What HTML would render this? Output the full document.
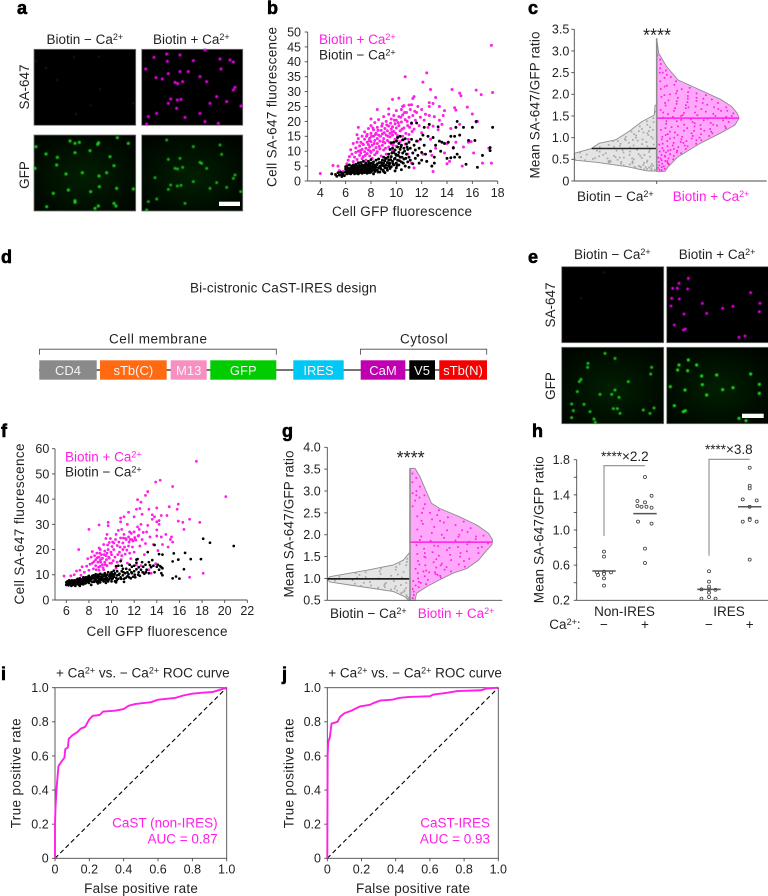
<!DOCTYPE html>
<html lang="en">
<head>
<meta charset="utf-8">
<title>CaST figure</title>
<style>
html,body{margin:0;padding:0;background:#fff;width:768px;height:896px;overflow:hidden}
svg{display:block;font-family:"Liberation Sans",sans-serif;fill:#231f20}
.t{font-size:13.5px}
.k{font-size:12.5px}
.l{font-size:18px;font-weight:bold;stroke:#000;stroke-width:.6px;fill:#000}
.m{fill:#ff1fe6}
.w{fill:#f4f4f4;font-size:13px;text-anchor:middle}
.ax{stroke:#4a4a4a;stroke-width:.9;fill:none}
</style>
</head>
<body>
<svg id="fig" xmlns="http://www.w3.org/2000/svg" width="768" height="896" viewBox="0 0 768 896">
<defs>
<radialGradient id="gfpBg" cx="50%" cy="55%" r="65%"><stop offset="0" stop-color="#011f01"/><stop offset="1" stop-color="#000500"/></radialGradient>
<filter id="soft" x="-5%" y="-5%" width="110%" height="110%"><feGaussianBlur stdDeviation=".45"/></filter>
</defs>

<text class="l" x="17" y="14">a</text>
<text class="l" x="267" y="14">b</text>
<text class="l" x="528" y="14">c</text>
<text class="l" x="1" y="263">d</text>
<text class="l" x="528" y="263">e</text>
<text class="l" x="1" y="437">f</text>
<text class="l" x="282" y="437">g</text>
<text class="l" x="532" y="437">h</text>
<text class="l" x="1" y="680">i</text>
<text class="l" x="282" y="680">j</text>

<!-- panel a -->
<g>
<text class="t" x="46.5" y="44">Biotin − Ca<tspan dy="-4" font-size="9">2+</tspan></text>
<text class="t" x="153" y="44">Biotin + Ca<tspan dy="-4" font-size="9">2+</tspan></text>
<text class="t" transform="translate(29,87) rotate(-90)" text-anchor="middle">SA-647</text>
<text class="t" transform="translate(29,175) rotate(-90)" text-anchor="middle">GFP</text>
<rect x="34" y="49.3" width="101.7" height="76" fill="#000" stroke="#777" stroke-width=".8"/>
<rect x="141.7" y="49.3" width="101" height="76" fill="#000" stroke="#777" stroke-width=".8"/>
<rect x="34" y="135" width="101.7" height="76" fill="url(#gfpBg)" stroke="#777" stroke-width=".8"/>
<rect x="141.7" y="135" width="101" height="76" fill="url(#gfpBg)" stroke="#777" stroke-width=".8"/>
<g id="spotsA" filter="url(#soft)"></g>
<rect x="219" y="201.7" width="21" height="4.3" fill="#fff"/>
</g>

<!-- panel e -->
<g>
<text class="t" x="574" y="259">Biotin − Ca<tspan dy="-4" font-size="9">2+</tspan></text>
<text class="t" x="678.7" y="259">Biotin + Ca<tspan dy="-4" font-size="9">2+</tspan></text>
<text class="t" transform="translate(555,305) rotate(-90)" text-anchor="middle">SA-647</text>
<text class="t" transform="translate(555,386) rotate(-90)" text-anchor="middle">GFP</text>
<rect x="561.7" y="266.7" width="102" height="76" fill="#000" stroke="#777" stroke-width=".8"/>
<rect x="666.7" y="266.7" width="102" height="76" fill="#000" stroke="#777" stroke-width=".8"/>
<rect x="561.7" y="347.3" width="102" height="76.4" fill="url(#gfpBg)" stroke="#777" stroke-width=".8"/>
<rect x="666.7" y="347.3" width="102" height="76.4" fill="url(#gfpBg)" stroke="#777" stroke-width=".8"/>
<g id="spotsE" filter="url(#soft)"></g>
<rect x="742" y="413.7" width="21.7" height="4.3" fill="#fff"/>
</g>

<!-- panel d -->
<g>
<text class="t" x="190" y="292.7" textLength="186.7">Bi-cistronic CaST-IRES design</text>
<text class="t" x="109" y="343.3" textLength="98">Cell membrane</text>
<text class="t" x="400" y="343.3" textLength="47.7">Cytosol</text>
<path d="M39.5 354.7V349.2H276.3V354.7" fill="none" stroke="#444" stroke-width=".8"/>
<path d="M360.5 354.7V349.2H486.7V354.7" fill="none" stroke="#444" stroke-width=".8"/>
<line x1="39" y1="370" x2="487" y2="370" stroke="#222" stroke-width="1.3"/>
<rect x="39.3" y="360.3" width="57.4" height="19.4" fill="#8a8a8a"/>
<rect x="100" y="360.3" width="66.7" height="19.4" fill="#ff6a13"/>
<rect x="170.7" y="360.3" width="36" height="19.4" fill="#f78fc0"/>
<rect x="210.3" y="360.3" width="66" height="19.4" fill="#00cc00"/>
<rect x="293.3" y="360.3" width="50.4" height="19.4" fill="#00c8f5"/>
<rect x="360.7" y="360.3" width="44.6" height="19.4" fill="#c000b0"/>
<rect x="409.3" y="360.3" width="25.7" height="19.4" fill="#000"/>
<rect x="439.3" y="360.3" width="47.7" height="19.4" fill="#f50000"/>
<text class="w" x="68" y="375">CD4</text>
<text class="w" x="133.3" y="375">sTb(C)</text>
<text class="w" x="188.7" y="375">M13</text>
<text class="w" x="243.3" y="375">GFP</text>
<text class="w" x="318.5" y="375">IRES</text>
<text class="w" x="383" y="375">CaM</text>
<text class="w" x="422" y="375">V5</text>
<text class="w" x="463" y="375">sTb(N)</text>
</g>

<!-- panel b -->
<g id="chartB">
<text class="t" transform="translate(276.7,107) rotate(-90)" text-anchor="middle" textLength="160">Cell SA-647 fluorescence</text>
<text class="t" x="402" y="216" text-anchor="middle" textLength="140">Cell GFP fluorescence</text>
<text class="t m" x="319" y="44">Biotin + Ca<tspan dy="-4" font-size="9">2+</tspan></text>
<text class="t" x="319" y="59.5">Biotin − Ca<tspan dy="-4" font-size="9">2+</tspan></text>
</g>

<!-- panel c -->
<g id="chartC">
<text class="t" transform="translate(539.3,105) rotate(-90)" text-anchor="middle" textLength="147">Mean SA-647/GFP ratio</text>
<text x="657" y="41.5" font-size="18" text-anchor="middle">****</text>
<text class="t" x="577" y="201">Biotin − Ca<tspan dy="-4" font-size="9">2+</tspan></text>
<text class="t m" x="672.7" y="201">Biotin + Ca<tspan dy="-4" font-size="9">2+</tspan></text>
</g>

<!-- panel f -->
<g id="chartF">
<text class="t" transform="translate(24,524) rotate(-90)" text-anchor="middle" textLength="161">Cell SA-647 fluorescence</text>
<text class="t" x="157" y="636" text-anchor="middle" textLength="141">Cell GFP fluorescence</text>
<text class="t m" x="65" y="461.7">Biotin + Ca<tspan dy="-4" font-size="9">2+</tspan></text>
<text class="t" x="65" y="476.7">Biotin − Ca<tspan dy="-4" font-size="9">2+</tspan></text>
</g>

<!-- panel g -->
<g id="chartG">
<text class="t" transform="translate(293.3,524) rotate(-90)" text-anchor="middle" textLength="147">Mean SA-647/GFP ratio</text>
<text x="410.7" y="464" font-size="18" text-anchor="middle">****</text>
<text class="t" x="330" y="618">Biotin − Ca<tspan dy="-4" font-size="9">2+</tspan></text>
<text class="t m" x="417.7" y="618">Biotin + Ca<tspan dy="-4" font-size="9">2+</tspan></text>
</g>

<!-- panel h -->
<g id="chartH">
<text class="t" transform="translate(543.3,529.7) rotate(-90)" text-anchor="middle" textLength="147">Mean SA-647/GFP ratio</text>
<text class="t" x="624.5" y="616" text-anchor="middle">Non-IRES</text>
<text class="t" x="729" y="616" text-anchor="middle">IRES</text>
<text class="t" x="549.3" y="629">Ca<tspan dy="-4" font-size="9">2+</tspan><tspan dy="4">:</tspan></text>
<text class="t" x="604" y="629" text-anchor="middle">−</text>
<text class="t" x="645" y="629" text-anchor="middle">+</text>
<text class="t" x="709" y="629" text-anchor="middle">−</text>
<text class="t" x="749.7" y="629" text-anchor="middle">+</text>
<text class="t" x="601" y="461">****×2.2</text>
<text class="t" x="705" y="454">****×3.8</text>
<path d="M604 536V465.7H645" fill="none" stroke="#8c8c8c" stroke-width="1.1"/>
<path d="M709 555.7V459.3H749.7" fill="none" stroke="#8c8c8c" stroke-width="1.1"/>
</g>

<!-- panel i -->
<g id="chartI">
<text x="56" y="677.3" font-size="13.5">+ Ca<tspan dy="-4" font-size="9">2+</tspan><tspan dy="4"> vs. − Ca</tspan><tspan dy="-4" font-size="9">2+</tspan><tspan dy="4"> ROC curve</tspan></text>
<text class="t" transform="translate(20.7,773.3) rotate(-90)" text-anchor="middle" textLength="110">True positive rate</text>
<text class="t" x="141" y="893" text-anchor="middle" textLength="113.7">False positive rate</text>
</g>

<!-- panel j -->
<g id="chartJ">
<text x="328.3" y="677.3" font-size="13.5">+ Ca<tspan dy="-4" font-size="9">2+</tspan><tspan dy="4"> vs. − Ca</tspan><tspan dy="-4" font-size="9">2+</tspan><tspan dy="4"> ROC curve</tspan></text>
<text class="t" transform="translate(293.3,773.3) rotate(-90)" text-anchor="middle" textLength="110">True positive rate</text>
<text class="t" x="413" y="893" text-anchor="middle" textLength="114">False positive rate</text>
</g>
</svg>

<script>
/* ---------- panel b values ---------- */
const bTicksX=['4','6','8','10','12','14','16','18'];
const bTicksY=['0','5','10','15','20','25','30','35','40','45','50'];
const bPlus=[[17.5,45.5],[12.4,36.3],[12.1,33.2],[10.7,35],[17.6,29.7],[16.3,30.5],[16.7,29],[14.4,30.7],[15,29.5],[15.1,28.6],[12.7,30.7],[13.1,28],[11.4,28.3],[11.3,27.7],[9.7,27.4],[10.2,27.8],[12.6,26.3],[12.9,26],[12.6,25],[13.4,25],[11,25.5],[11.2,25.6],[10.5,25],[10.6,25.3],[8.5,24],[9.4,24.2],[14.6,24.6],[14.7,23.8],[15.6,24.8],[13.8,23.6],[16,22.5],[8,20.8],[7,18],[6.9,15.5],
[4,2.5],[5,5.2],[5.4,5],[5.5,3.5],[5.8,3.2],[6.1,5.8],[6.2,7],[6.3,8.2],[6.4,10.5],[6.5,9],[6.6,6.5],[6.6,12.6],[6.7,8],[6.8,9.6],[6.8,11.1],[6.9,13],[6.9,7.2],[7,10],[7,14.2],[7,6.2],
[7.1,8.6],[7.1,11.8],[7.2,9.4],[7.2,13],[7.3,7.5],[7.3,10.6],[7.3,15],[7.4,12.2],[7.4,8.2],[7.5,9.8],[7.5,14],[7.5,16.5],[7.6,11],[7.6,7],[7.7,13],[7.7,9.2],[7.7,15.6],[7.8,10.4],[7.8,12.2],[7.8,17.6],[7.9,8.4],[7.9,14.4],[7.9,11.4],[8,16],[8,13.2],[8,9.6],[8,18.6],
[8.1,7.6],[8.1,12],[8.2,15],[8.2,10.4],[8.2,17.2],[8.3,13.6],[8.3,8.8],[8.3,19.6],[8.4,11.2],[8.4,16],[8.5,14.2],[8.5,9.8],[8.5,12.6],[8.5,18],[8.6,20.6],[8.6,15.4],[8.7,10.8],[8.7,13.4],[8.8,17],[8.8,8.4],[8.9,12],[8.9,15.8],[8.9,19.2],[9,14.2],[9,21.6],[9,10.4],[9.1,17.6],[9.1,12.8],[9.2,15.4],[9.2,20],[9.2,9],
[9.3,13.6],[9.3,16.8],[9.4,11.4],[9.4,18.4],[9.4,22.4],[9.5,14.8],[9.5,16],[9.6,20.8],[9.6,12.4],[9.6,17.4],[9.7,10],[9.7,15.4],[9.7,18.2],[9.8,13],[9.8,22],[9.8,16.6],[9.9,19.2],[9.9,14],[10,17.8],[10,11.6],[10,20.4],[10,23.6],[10.1,15.2],[10.2,18.6],[10.2,21.6],[10.3,13.2],[10.3,16.8],[10.4,24],[10.4,19.8],[10.5,22.2],[10.5,15],[10.6,17.8],[10.7,12.4],[10.7,20.6],[10.8,23],[10.9,18.6],[10.9,9],
[11,21.4],[11,15.6],[11.1,24],[11.2,19.2],[11.2,6],[11.3,22],[11.4,17.4],[11.4,4.4],[11.5,20.4],[11.6,23],[11.7,13.4],[11.7,25],[11.8,18.6],[11.9,21.4],[12,16.2],[12,24],[12.1,9],[12.2,20.4],[12.3,22.4],[12.4,6.6],[12.5,18],[12.6,22],[12.7,14],[12.8,8.6],[12.9,3.2],[12.9,18.4],[13,21.6],[13.1,11],[13.3,17.2],[13.4,20.4],[13.6,19],[13.7,22],[13.8,9.4],[14,12.6],[14,5.8],[14.2,6.6],[14.3,17.6],[14.5,11],[14.7,13],[15,19],[15.2,5],[15.3,11.4],[15.7,13],[16.1,9.4],[16.3,19.8],[16.4,20],[16.8,6],[17.5,6],[17.3,11],[15.9,13.2],
[7.15,10.2],[7.35,12.4],[7.55,8.6],[7.65,15],[7.85,13.6],[7.95,10],[8.05,15],[8.15,17.8],[8.25,12.6],[8.35,15.6],[8.45,9.4],[8.55,17],[8.65,11.6],[8.75,15],[8.85,18.4],[8.95,13.2],[9.05,16.2],[9.15,11],[9.25,18.8],[9.35,15],[9.45,13],[9.55,19.4],[9.65,16.4],[9.75,12],[9.85,20.4],[9.95,16],[10.05,13.6],[10.15,19.6],[10.25,15],[10.35,21.4],[10.45,17.4],[10.55,13.8],[10.65,23],[10.75,16],[10.85,20],[10.95,14],[11.05,18],[11.25,16.6],[11.45,23.4]];
const bMinus=[[4.9,2.4],[5.2,2.2],[5.3,1.6],[5.4,2.8],[5.5,2],[5.6,3],[5.7,2.2],[5.7,1.5],[5.8,2.6],[5.9,1.8],[6,3],[6,4],[6,4.8],[6.1,2.4],[6.1,3.4],[6.1,5],[6.2,4.2],[6.2,3],[6.3,2.5],[6.3,3.8],[6.3,5.4],[6.4,4.4],[6.4,3.2],[6.4,2.4],[6.5,5],[6.5,3.8],[6.5,2.8],[6.6,4.4],[6.6,3.2],[6.6,5.4],[6.7,2.4],[6.7,3.6],[6.7,4.8],[6.8,3],[6.8,4.2],[6.8,5.6],[6.9,2.6],[6.9,3.6],[6.9,5],[7,4.4],[7,3.2],[7,2.4],[7,6],
[7.1,3.8],[7.1,5.2],[7.1,2.8],[7.2,4.6],[7.2,3.4],[7.2,6.2],[7.3,2.6],[7.3,4],[7.3,5.4],[7.4,3.2],[7.4,4.8],[7.4,6.6],[7.5,2.8],[7.5,3.8],[7.5,5.4],[7.5,4.4],[7.6,6],[7.6,3.2],[7.6,4.8],[7.7,2.6],[7.7,4],[7.7,5.4],[7.8,3.4],[7.8,6.6],[7.8,4.6],[7.9,2.8],[7.9,5.2],[7.9,3.8],[8,4.4],[8,6],[8,3],[8,7.2],[8.1,5],[8.1,3.6],[8.2,2.4],[8.2,4.2],[8.2,6.4],[8.3,5.4],[8.3,3.2],[8.4,4.6],[8.4,7],[8.5,3.6],[8.5,5.8],[8.6,4.4],[8.6,7.4],[8.7,5],[8.7,3],[8.8,6.2],[8.8,4],[8.9,7],[8.9,5.2],[9,3.2],[9,6],[9,8],
[9.1,4.4],[9.1,6.8],[9.1,2.8],[9.2,5.4],[9.2,7.6],[9.3,3.6],[9.3,6.2],[9.4,9],[9.4,5],[9.4,7],[9.5,4.2],[9.5,10.6],[9.5,6],[9.6,8.2],[9.6,12.8],[9.6,4.8],[9.7,6.6],[9.7,11],[9.8,9.6],[9.8,5.4],[9.8,13],[9.9,7.6],[9.9,3.4],[9.9,10.4],[10,6],[10,8.6],[10,13.4],[10,4.4],[10.1,11.4],[10.1,7],[10.1,14.6],[10.2,9.6],[10.2,5.4],[10.2,12.6],[10.3,8],[10.3,10.6],[10.3,15],[10.4,6.4],[10.4,12],[10.4,3.8],[10.5,9.4],[10.5,13.8],[10.6,7.4],[10.6,11],[10.7,5],[10.7,14.2],[10.8,9],[10.8,12.4],[10.9,6.4],[10.9,10.6],[11,8],[11,13],[11,4.6],[11.1,11],[11.1,7],[11.2,19.5],[11.2,14],[11.3,9.4],[11.3,5.8],[11.4,12],[11.5,7.6],[11.5,10.4],[11.6,19.5],[11.6,13.4],[11.7,8.6],[11.8,6],[11.8,11],[11.9,14],[12,9.6],[12,7],[12.1,15.4],[12.2,18],[12.2,12],[12.3,9],[12.4,6.6],[12.5,15],[12.6,19],[12.7,10],[12.8,5],[12.9,14.6],[13,8],[13,6],[13.1,12],[13.3,18.2],[13.4,13.4],[13.5,10],[13.6,13],[13.8,12.6],[14,7.6],[14.1,13],[14.3,7.8],[14.3,15],[14.5,11.2],[14.6,8],[14.7,18],[14.8,20],[14.8,9],[15,15.4],[15.3,18],[15.5,5.6],[15.7,13.6],[16,18],[16.3,20],[16.4,4.6],[16.8,8.6],[17.4,10.2],[17.4,11.2],[17.6,18],[16.2,13.6],[14.6,15],[15,8],
[6.15,3.8],[6.35,3],[6.55,4.2],[6.75,3.2],[6.95,4.4],[7.05,3.6],[7.25,3],[7.35,4.6],[7.45,3.6],[7.55,5],[7.65,3.8],[7.75,3],[7.85,5.8],[7.95,4.4],[8.05,3.4],[8.15,5.6],[8.25,4.8],[8.35,3.8],[8.45,5.4],[8.55,3],[8.65,6.2],[8.75,4.4],[8.85,5.4],[8.95,3.6],[9.05,5],[9.15,7.6],[9.25,4.4],[9.35,8],[9.45,5.6],[9.55,7.2],[9.65,9.4],[9.75,5.8],[9.85,7.4],[9.95,9],[10.05,5.2],[10.15,8.6],[10.25,6.8],[10.35,11.4],[10.45,8],[10.55,6],[10.65,10],[10.75,7.6],[10.85,11.4]];

/* ---------- panel f values ---------- */
const fTicksX=['6','8','10','12','14','16','18','20','22'];
const fTicksY=['0','10','20','30','40','50','60'];
const fPlus=[[17.5,55],[20.1,41],[14.3,47.5],[13.9,46.8],[15.4,45],[13.2,43],[13,41.5],[12.3,39.8],[12.6,38.8],[15.9,38],[14,36.5],[15.1,37],[15.8,36],[13.3,36],[12.2,36],[12.5,36.3],[11.5,34.8],[11.1,33],[10.8,32.5],[10.8,31],[12,33],[12.7,34],[13.8,33],[13.6,33.8],[14.4,33.5],[14.9,33.5],[14,31],[14.2,31.5],[15.9,31.3],[16.9,32],[16.3,30.8],[17.8,30.8],[8,28],[8.9,29.8],[9.7,30.8],[9.7,29.5],[7.1,20],[5.8,9.5],[6,6],[6.4,9.6],[6.7,10],[6.9,11.5],[7.2,11.8],[7.3,9.8],[7.6,11],[7.8,13.4],[7.9,16.4],[8,11.8],[8.2,17],[8.3,14.6],[8.4,12.4],[8.5,17.6],[8.6,16],[8.6,13.6],[8.7,18.6],[8.8,15],[8.9,11.8],[8.9,17],[9,13.4],[9,20],[9,15.8],[9.1,18],[9.2,14],[9.2,16.6],[9.3,22],[9.3,12],[9.4,19.4],[9.4,15],[9.5,24.4],[9.5,17.6],[9.6,26],[9.6,13.6],[9.7,20],[9.8,16.6],[9.8,22.8],[10,18],[10,14.6],[10.1,23],[10.2,20],[10.3,17],[10.4,26],[10.5,21.6],[10.5,15],[10.6,27.6],[10.7,19],[10.8,24.6],[10.9,17.6],[10.9,28],[11,22.6],[11,20],[11.1,26],[11.2,18.2],[11.3,24],[11.4,30],[11.5,21.4],[11.5,25],[11.6,27],[11.7,16.4],[11.8,24],[11.9,23.4],[12,27],[12,19],[12.1,24],[12.2,14],[12.3,29],[12.4,25.6],[12.5,21.4],[12.6,30],[12.7,24],[12.8,26.8],[12.9,18],[13,22.4],[13.1,27],[13.2,29.6],[13.3,12],[13.4,25],[13.5,10.6],[13.6,32],[13.7,22],[14,25.4],[14,27.8],[14.1,19.6],[14.2,30],[14.4,25],[14.5,22],[14.8,26],[15,21],[15.2,24],[15.3,25],[15.4,23],[15.9,16],[16.4,28],[16.9,9],[18.1,10.6],[8.1,14.2],[9.6,18.6],[10.4,12.6],[11.4,14.6],[12.6,13.6],[13,11],[13.9,14.4],[9.1,9.6],[7.4,13.2],[8.9,20.6],[10.2,22.6],[11.6,18.6],[9.9,24.4],[8.3,19.2],
[8.45,15.2],[8.65,12],[8.75,16.8],[8.85,13],[8.95,18.6],[9.05,15],[9.15,16.4],[9.25,12.8],[9.35,18],[9.45,14],[9.55,16],[9.65,21.8],[9.75,17],[9.85,14.6],[9.95,19],[10.05,21.2],[10.15,15.6],[10.35,24],[10.55,18],[10.65,23],[10.75,21],[10.85,16],[11.05,24.6],[11.15,21],[11.25,24.4],[11.35,19.8],[11.55,23],[11.65,24],[11.75,26.4],[11.85,21],[12.05,24.8],[12.15,23.8],[12.35,25.4],[12.45,28]];
const fMinus=[[18.1,24.3],[18.7,22.7],[20.8,21.4],[13.8,21.8],[13.2,19],[15.5,18.5],[16.5,18.7],[15.9,16],[17,16.2],[17.9,16.2],[15.4,15.3],[16.4,12.2],[15.4,8.6],[15.7,9.3],[16,8.5],[14.5,9.8],[14.4,13],[14.2,18.2],[14.5,18],
[6,7],[6,6],[6.1,7.4],[6.1,6.2],[6.2,6.8],[6.2,5.8],[6.3,7.2],[6.3,6.4],[6.4,6.6],[6.4,7.6],[6.5,6.8],[6.5,7.8],[6.6,6],[6.6,7.2],[6.7,7.8],[6.7,6.6],[6.8,5.6],[6.8,7],[6.9,8],[6.9,6.4],[7,7.4],[7,8.4],[7,6.6],[7.1,6],[7.1,7.8],[7.2,8.6],[7.2,7],[7.3,7.6],[7.3,6.4],[7.4,8.2],[7.4,7],[7.5,9],[7.5,7.6],[7.5,6.2],[7.6,8.4],[7.6,7.2],[7.7,9],[7.7,7.8],[7.7,6.6],[7.8,8.2],[7.8,7],[7.9,9.2],[7.9,7.6],[8,8.4],[8,6.8],[8,9.6],[8.1,7.8],[8.1,9],[8.2,8.2],[8.2,6],[8.3,9.6],[8.3,7.2],[8.4,8.6],[8.4,9.8],[8.5,7.6],[8.5,9],[8.6,8.2],[8.6,10.2],[8.7,7.2],[8.7,9.2],[8.8,8.6],[8.8,10],[8.9,7.8],[8.9,9.4],[9,8.4],[9,10.4],[9,7],[9.1,9.2],[9.1,8],[9.2,10],[9.2,8.8],[9.3,7.4],[9.3,9.6],[9.4,8.4],[9.4,10.6],[9.5,9.2],[9.5,7.8],[9.6,10],[9.6,8.8],[9.7,11],[9.7,7.4],[9.8,9.4],[9.8,8.2],[9.9,10.4],[9.9,8.8],[10,9.6],[10,11],[10,7.4],[10.1,8.6],[10.1,10.2],[10.2,11.6],[10.2,9.2],[10.3,7.4],[10.3,10.6],[10.4,8.8],[10.4,13.4],[10.5,9.8],[10.5,11.4],[10.6,8.4],[10.6,13.6],[10.7,10.4],[10.8,9],[10.8,15.4],[10.9,11.4],[11,9.8],[11,12.4],[11.1,8.4],[11.2,10.6],[11.3,12.4],[11.4,9.4],[11.4,11],[11.5,10.2],[11.6,12],[11.7,8.6],[11.8,13.2],[11.8,10.6],[11.9,9.2],[12,11.4],[12,13.6],[12.1,9],[12.2,12.2],[12.2,14.8],[12.3,16.2],[12.4,11],[12.4,13],[12.5,9.6],[12.6,12],[12.7,15],[12.8,13.2],[12.9,10.4],[13,14],[13.1,12],[13.3,15],[13.3,10.6],[13.5,13],[13.6,15.8],[13.7,13.6],[13.8,11],[14,13.2],[14.1,14],[14.2,12],[14.3,13.4],[14.4,10.6],[14.5,12.6],[12.2,16],[11.6,14],[10.9,13.6],[13.4,13.8],[7.2,5.6],[8.8,6.6],[9.5,6.8],[10.4,7],[11.1,7.2],
[6.25,7.8],[6.45,5.6],[6.75,7.2],[7.05,7],[7.25,8],[7.45,6.4],[7.65,7.8],[7.85,8.8],[8.05,7.4],[8.25,8.8],[8.45,7.2],[8.55,9.6],[8.65,7.6],[8.85,7.4],[9.05,9],[9.25,7.8],[9.45,9.8],[9.65,8],[9.85,10],[10.05,8.4],[10.25,10],[10.45,7.8],[10.65,10],[10.85,8.4],[11.05,11],[11.25,8.8],[11.55,9],[11.75,11],[12.05,10],[12.35,10],[12.75,11],[13.05,11]];

/* ---------- panel c values ---------- */
const cTicksY=['0','0.5','1.0','1.5','2.0','2.5','3.0','3.5'];
const cDensityPlus=[[3.29,0],[2.95,.024],[2.64,.12],[2.33,.26],[2.1,.53],[1.87,.79],[1.72,.91],[1.56,.98],[1.45,1],[1.29,.95],[1.1,.77],[.87,.53],[.56,.26],[.33,.14],[.22,.1]];
const cDensityMinus=[[1.75,.02],[1.52,.03],[1.47,.08],[1.37,.18],[1.14,.34],[.95,.5],[.87,.7],[.75,.79],[.64,1],[.56,1],[.48,.99],[.43,.73],[.33,.36],[.25,.16],[.23,.1]];
const cMedianMinus=[.75];
const cMedianPlus=[1.45];
const cJitterPlus=[[.2,2.9],[.5,2.7],[.3,2.6],[.7,2.55],[.2,2.5],[.6,2.45],[.4,2.38],[.8,2.3],[.15,2.3],[.55,2.22],[.3,2.2],[.85,2.15],[.1,2.12],[.45,2.08],[.65,2.05],[.25,2],[.9,1.98],[.55,1.96],[.08,1.94],[.35,1.92],[.75,1.9],[.18,1.86],[.6,1.85],[.45,1.82],[.88,1.8],[.28,1.78],[.7,1.76],[.12,1.74],[.52,1.72],[.92,1.7],[.38,1.68],[.8,1.66],[.05,1.64],[.22,1.62],[.62,1.6],[.48,1.58],[.95,1.56],[.14,1.54],[.32,1.52],[.72,1.5],[.85,1.48],[.08,1.46],[.42,1.42],[.58,1.4],[.25,1.38],[.9,1.36],[.68,1.34],[.12,1.32],[.35,1.3],[.78,1.28],[.5,1.26],[.2,1.24],[.95,1.22],[.62,1.2],[.06,1.18],[.4,1.16],[.82,1.14],[.28,1.12],[.55,1.1],[.72,1.08],[.15,1.06],[.9,1.04],[.45,1.02],[.32,1],[.66,.98],[.1,.96],[.8,.94],[.22,.92],[.52,.9],[.38,.88],[.92,.86],[.06,.84],[.7,.82],[.28,.8],[.58,.78],[.16,.76],[.85,.74],[.42,.72],[.65,.7],[.1,.68],[.32,.66],[.9,.64],[.52,.62],[.2,.6],[.75,.58],[.4,.56],[.08,.54],[.6,.52],[.88,.5],[.28,.48],[.5,.46],[.14,.44],[.7,.42],[.38,.4],[.9,.38],[.2,.36],[.6,.34],[.45,.32],[.12,.3],[.8,.28],[.3,.26],[.55,.25],[.82,1.62],[.4,1.75],[.66,1.92],[.3,1.5],[.75,1.2],[.48,1.33],[.18,1.08],[.62,.92],[.36,.7],
[.6,2.8],[.4,2.5],[.75,2.4],[.22,2.18],[.6,2.12],[.38,2.02],[.78,2.02],[.14,1.98],[.5,1.9],[.86,1.88],[.3,1.84],[.66,1.8],[.12,1.8],[.42,1.7],[.76,1.7],[.24,1.68],[.58,1.66],[.9,1.62],[.08,1.58],[.34,1.57],[.7,1.55],[.5,1.52],[.92,1.5],[.2,1.48],[.62,1.44],[.3,1.41],[.82,1.4],[.12,1.38],[.45,1.36],[.72,1.3],[.56,1.29],[.28,1.26],[.9,1.26],[.12,1.22],[.42,1.22],[.7,1.16],[.2,1.14],[.55,1.16],[.88,1.1],[.35,1.06],[.62,1.04],[.1,1.02],[.78,1],[.48,.96],[.25,.98],[.9,.94],[.6,.88],[.14,.86],[.4,.82],[.8,.8],[.5,.74],[.22,.7],[.7,.66],[.36,.58],[.62,.46],[.2,.52],[.8,.4]];
const cJitterMinus=[[.5,1.6],[.4,1.45],[.7,1.38],[.2,1.36],[.5,1.3],[.8,1.26],[.3,1.24],[.6,1.2],[.15,1.18],[.9,1.14],[.45,1.12],[.7,1.08],[.25,1.06],[.85,1.02],[.55,1],[.1,.98],[.35,.96],[.72,.94],[.92,.92],[.2,.9],[.5,.88],[.62,.86],[.05,.84],[.8,.83],[.38,.82],[.15,.8],[.68,.79],[.9,.78],[.28,.72],[.55,.7],[.75,.68],[.1,.67],[.42,.66],[.95,.65],[.62,.64],[.22,.62],[.85,.61],[.33,.6],[.52,.58],[.7,.57],[.08,.56],[.92,.55],[.4,.54],[.18,.53],[.6,.52],[.78,.51],[.28,.5],[.48,.49],[.88,.48],[.12,.47],[.66,.46],[.35,.45],[.55,.44],[.8,.43],[.22,.42],[.45,.41],[.7,.4],[.1,.39],[.6,.38],[.32,.37],[.85,.36],[.5,.35],[.18,.34],[.75,.33],[.4,.32],[.62,.31],[.9,.3],[.25,.29],[.5,.28],[.72,.27],[.12,.26],[.38,.25],[.6,.24],[.82,.92],[.6,1.05],[.3,.74],[.15,.6],[.72,.44],[.42,.77],[.58,.95],[.28,1.15],[.45,.54],
[.3,1.1],[.65,1.15],[.15,1.02],[.42,.93],[.8,.97],[.25,.85],[.6,.81],[.1,.72],[.48,.71],[.82,.7],[.35,.68],[.65,.6],[.2,.58],[.5,.55],[.75,.53],[.3,.52],[.15,.44],[.6,.47],[.4,.43],[.1,.35],[.55,.33],[.3,.31]];

/* ---------- panel g values ---------- */
const gTicksY=['0.5','1.0','1.5','2.0','2.5','3.0','3.5','4.0'];
const gDensityPlus=[[3.52,.06],[3.33,.12],[3.02,.19],[2.72,.26],[2.6,.36],[2.41,.6],[2.22,.81],[2.03,.95],[1.88,1],[1.77,.99],[1.65,.93],[1.42,.83],[1.23,.69],[1.12,.52],[.97,.36],[.81,.2],[.66,.08],[.5,.06]];
const gDensityMinus=[[1.58,.01],[1.42,.08],[1.31,.2],[1.19,.52],[1.12,.73],[1.04,.97],[.98,1],[.92,.97],[.85,.73],[.77,.44],[.7,.2],[.58,.06],[.5,.02]];
const gMedianMinus=[.99];
const gMedianPlus=[1.83];
const gJitterPlus=[[.3,3.4],[.6,3.3],[.2,3.2],[.7,3.1],[.4,3],[.15,2.95],[.8,2.9],[.5,2.85],[.25,2.78],[.65,2.7],[.1,2.65],[.45,2.6],[.85,2.56],[.3,2.5],[.6,2.45],[.15,2.42],[.75,2.4],[.4,2.35],[.9,2.3],[.55,2.28],[.2,2.25],[.68,2.22],[.35,2.18],[.85,2.15],[.1,2.12],[.5,2.1],[.75,2.06],[.28,2.04],[.62,2],[.92,1.98],[.14,1.96],[.42,1.93],[.8,1.9],[.55,1.87],[.25,1.86],[.95,1.8],[.7,1.78],[.08,1.76],[.35,1.74],[.6,1.72],[.86,1.7],[.18,1.68],[.48,1.65],[.75,1.62],[.3,1.6],[.92,1.58],[.1,1.56],[.55,1.54],[.4,1.52],[.7,1.5],[.22,1.48],[.85,1.45],[.6,1.42],[.12,1.4],[.36,1.37],[.5,1.34],[.78,1.32],[.25,1.3],[.92,1.27],[.45,1.25],[.1,1.22],[.65,1.2],[.32,1.18],[.85,1.16],[.55,1.14],[.18,1.12],[.7,1.08],[.4,1.05],[.9,1.02],[.25,1],[.6,.97],[.12,.94],[.45,.9],[.75,.87],[.3,.84],[.55,.8],[.2,.76],[.4,.7],[.6,.62],[.5,.55],[.35,2.9],[.52,2.32],[.72,1.84],[.2,1.5],[.62,1.26],[.35,.92],
[.5,2.5],[.2,2.32],[.7,2.1],[.4,2],[.82,1.96],[.12,1.88],[.6,1.95],[.3,1.75],[.9,1.72],[.5,1.7],[.2,1.58],[.68,1.58],[.38,1.44],[.8,1.4],[.5,1.3],[.15,1.32],[.28,1.16],[.62,1.1],[.42,1.14],[.8,1.06]];
const gJitterMinus=[[.5,1.45],[.3,1.38],[.7,1.33],[.2,1.3],[.5,1.26],[.8,1.22],[.35,1.2],[.6,1.16],[.12,1.15],[.9,1.12],[.45,1.1],[.72,1.08],[.25,1.06],[.88,1.04],[.55,1.03],[.1,1.02],[.38,1],[.7,.96],[.92,.95],[.2,.94],[.5,.92],[.62,.9],[.05,.9],[.8,.88],[.38,.87],[.15,.85],[.68,.84],[.9,.83],[.28,.82],[.55,.8],[.75,.79],[.1,.78],[.42,.77],[.95,.76],[.62,.75],[.22,.73],[.85,.72],[.33,.7],[.52,.68],[.7,.66],[.4,.62],[.6,.58],[.3,.56],[.5,.53],[.8,1.14],[.65,1.02],[.32,.9],[.45,.84],[.18,1.09],[.58,.72]];

/* ---------- panel h values ---------- */
const hTicksY=['0.2','0.4','0.6','0.8','1.0','1.2','1.4','1.6','1.8'];
const hTickLabels=['0.2','0.6','1.0','1.4','1.8'];
const hGroupNames=['non-ires-minus','non-ires-plus','ires-minus','ires-plus'];
const hMedians=[.534,1.186,.325,1.265];
const hValues=[
 [.754,.697,.518,.526,.518,.488,.5,.45,.367],
 [1.603,1.39,1.33,1.315,1.273,1.265,1.265,1.254,1.095,1.072,.788,.625],
 [.53,.412,.355,.325,.325,.32,.287,.219,.238,.219],
 [1.709,1.504,1.474,1.349,1.337,1.265,1.129,1.095,1.095,1.114,.663]];
const hJitter=[
 [0,0,-.34,0,.34,-.29,0,0,0],
 [0,.32,-.37,0,-.37,-.17,.07,.32,-.34,.32,0,0],
 [0,0,0,-.37,0,.32,0,-.37,0,.32],
 [0,0,0,-.34,.34,0,0,-.34,.34,0,0]];

/* ---------- panels i, j values ---------- */
const rocTicks=['0','0.2','0.4','0.6','0.8','1.0'];
const iFpr=[0,0,.003,.01,.02,.04,.055,.06,.075,.08,.1,.13,.15,.175,.2,.22,.26,.28,.35,.4,.43,.47,.56,.6,.7,.75,.8,.85,.92,1];
const iTpr=[0,.2,.3,.42,.54,.57,.59,.64,.65,.7,.72,.74,.76,.77,.815,.835,.84,.86,.865,.875,.895,.905,.915,.93,.94,.955,.965,.97,.975,1];
const jFpr=[0,.002,.005,.015,.025,.06,.075,.1,.14,.19,.25,.27,.31,.38,.42,.47,.6,.62,.7,.76,.9,.93,1];
const jTpr=[0,.6,.68,.71,.79,.8,.83,.85,.865,.89,.9,.91,.925,.93,.94,.945,.95,.96,.97,.98,.985,.995,1];

/* ---------- micrograph spots (image-only decoration, 3x coordinates) ---------- */
const spotsSaPlusA=[[500,162],[540,165],[580,182],[615,150],[660,177],[690,180],[700,186],[462,172],[502,184],[437,207],[505,221],[540,215],[565,215],[663,207],[600,230],[487,237],[468,233],[525,247],[548,245],[533,251],[620,245],[700,270],[705,262],[650,290],[680,305],[723,318],[630,310],[543,298],[532,300],[512,297],[505,310],[470,340],[445,350],[555,352],[440,372],[615,365],[655,370],[530,325],[600,340]];
const spotsSaMinusA=[[108,183],[138,204],[222,172],[296,170],[172,240],[300,268],[272,316],[228,342],[400,310]];
const spotsGfpMinusA=[[210,423],[225,430],[238,427],[352,413],[296,428],[293,433],[108,440],[138,462],[172,472],[170,495],[225,458],[270,452],[320,518],[297,528],[198,522],[247,518],[342,497],[298,560],[272,575],[205,570],[225,602],[225,607],[285,625],[295,618],[342,610],[348,618],[400,567],[140,620],[160,580],[105,505],[350,565],[330,470],[385,430]];
const spotsGfpPlusA=[[500,420],[580,440],[665,463],[505,478],[540,475],[525,505],[548,502],[533,507],[620,505],[705,525],[700,535],[650,548],[680,562],[543,556],[532,558],[512,555],[505,568],[470,597],[445,605],[555,610],[600,487],[465,533],[440,630],[630,565],[580,545],[605,490],[660,435],[722,575]];
const spotsSaPlusE=[[565,115],[537,130],[518,145],[532,145],[563,147],[752,158],[607,190],[668,205],[699,199],[620,220],[523,255],[550,270],[556,267],[717,292],[735,288],[515,175],[538,177],[513,198],[552,222],[780,190],[778,215]];
const spotsSaMinusE=[[312,97],[243,175]];
const spotsGfpMinusE=[[315,340],[264,370],[263,382],[345,355],[455,382],[452,402],[243,418],[238,425],[300,463],[335,463],[357,472],[345,450],[232,455],[215,492],[252,493],[220,512],[215,533],[282,537],[286,547],[270,515],[340,506],[352,506],[430,510],[462,504],[450,520],[385,425],[360,520]];
const spotsGfpPlusE=[[565,360],[537,375],[533,390],[563,392],[752,402],[607,434],[668,449],[699,443],[511,440],[555,450],[605,408],[620,465],[523,497],[550,515],[556,512],[717,535],[738,542],[778,433],[778,460],[650,405],[590,375]];

/* ---------- helpers ---------- */
const NS='http://www.w3.org/2000/svg';
function make(tag,attrs,parent){
  const n=document.createElementNS(NS,tag);
  for(const k in attrs){n.setAttribute(k,attrs[k]);}
  parent.appendChild(n);
  return n;
}
function linear(d0,d1,p0,p1){return v=>p0+(v-d0)*(p1-p0)/(d1-d0);}
function $(id){return document.getElementById(id);}

function yAxis(parent,ticks,labels,y,x0,labelX,prefix){
  const line=make('line',{x1:x0,x2:x0,y1:y(parseFloat(ticks[ticks.length-1])),y2:y(parseFloat(ticks[0])),class:'ax'},parent);
  
  
  ticks.forEach(t=>{
    const v=parseFloat(t);
    const tick=make('line',{x1:x0-3,x2:x0,y1:y(v),y2:y(v),class:'ax'},parent);
    
    
    if(labels.includes(t)){
      const lab=make('text',{x:labelX,y:y(v)+4.4,class:'k','text-anchor':'end'},parent);
      lab.textContent=t;
      
      
    }
  });
}
function xAxis(parent,ticks,x,y0,x0,x1,labelY,prefix){
  const line=make('line',{x1:x0,x2:x1,y1:y0,y2:y0,class:'ax'},parent);
  
  
  ticks.forEach(t=>{
    const v=parseFloat(t);
    const tick=make('line',{x1:x(v),x2:x(v),y1:y0,y2:y0+3,class:'ax'},parent);
    
    
    const lab=make('text',{x:x(v),y:labelY,class:'k','text-anchor':'middle'},parent);
    lab.textContent=t;
    
    
  });
}
function scatter(parent,pts,x,y,r,color,name){
  pts.forEach(p=>{
    const c=make('circle',{cx:x(p[0]),cy:y(p[1]),r:r,fill:color},parent);
    
    
  });
}
function densityAt(shape,v){
  for(let i=0;i<shape.length-1;i++){
    const a=shape[i],b=shape[i+1];
    if(v<=a[0]&&v>=b[0]){return a[1]+(a[0]-v)*(b[1]-a[1])/(a[0]-b[0]);}
  }
  return 0;
}
function violinHalf(parent,shape,jitter,median,y,cx,sign,scale,fill,dotColor,lineColor,name,medianStop){
  const w=d=>cx+sign*d*scale;
  let d='M'+cx+' '+y(shape[0][0]);
  shape.forEach(s=>{d+='L'+w(s[1])+' '+y(s[0]);});
  d+='L'+cx+' '+y(shape[shape.length-1][0])+'Z';
  const body=make('path',{d:d,fill:fill,stroke:'#8d8d8d','stroke-width':.9,'stroke-linejoin':'round'},parent);
  
  
  jitter.forEach(j=>{
    const px=cx+sign*j[0]*densityAt(shape,j[1])*scale;
    const dot=make('rect',{x:px-.85,y:y(j[1])-.85,width:1.7,height:1.7,fill:dotColor},parent);
    
    
  });
  const widthAtMedian=medianStop===undefined?densityAt(shape,median[0]):medianStop;
  const m=make('line',{x1:cx,x2:w(widthAtMedian),y1:y(median[0]),y2:y(median[0]),stroke:lineColor,'stroke-width':1.5},parent);
  
  
}
function centerLine(parent,x,y0,y1,name){
  const l=make('line',{x1:x,x2:x,y1:y0,y2:y1,stroke:'#8d8d8d','stroke-width':1.6},parent);
  
  
}
function roc(parent,fpr,tpr,x0,x1,y0,y1,lab1,lab2,labX,prefix){
  const x=linear(0,1,x0,x1),y=linear(0,1,y0,y1);
  rocTicks.forEach(t=>{
    const v=parseFloat(t);
    const tx=make('line',{x1:x(v),x2:x(v),y1:y0,y2:y0+3,class:'ax'},parent);
    
    
    const ty=make('line',{x1:x0-3,x2:x0,y1:y(v),y2:y(v),class:'ax'},parent);
    
    
    const lx=make('text',{x:x(v),y:873.3,class:'k','text-anchor':'middle'},parent);
    lx.textContent=t;
    
    
    const ly=make('text',{x:x0-6.3,y:y(v)+4.4,class:'k','text-anchor':'end'},parent);
    ly.textContent=t;
    
    
  });
  const box=make('rect',{x:x0,y:y1,width:x1-x0,height:y0-y1,class:'ax'},parent);
  
  
  const diag=make('line',{x1:x(0),y1:y(0),x2:x(1),y2:y(1),stroke:'#000','stroke-width':1.1,'stroke-dasharray':'4.5 3'},parent);
  
  
  const pts=fpr.map((f,i)=>x(f)+','+y(tpr[i])).join(' ');
  const curve=make('polyline',{points:pts,fill:'none',stroke:'#ff1fe6','stroke-width':1.9,'stroke-linejoin':'round'},parent);
  
  
  const a=make('text',{x:labX,y:827.7,class:'t m','text-anchor':'end'},parent);
  a.textContent=lab1;
  
  
  const b=make('text',{x:labX,y:843.3,class:'t m','text-anchor':'end'},parent);
  b.textContent=lab2;
  
  
}
function spots(parent,list,ox,oy,r,color,opacity,name){
  list.forEach(p=>{
    const s=make('circle',{cx:ox+p[0]/3,cy:oy+p[1]/3,r:r,fill:color,opacity:opacity},parent);
    
    
  });
}

/* ---------- micrographs ---------- */
spots($('spotsA'),spotsSaMinusA,0,0,1.1,'#ff00ff',.25,'sa647-spot');
spots($('spotsA'),spotsSaPlusA,0,0,1.5,'#ff00ff',.95,'sa647-spot');
spots($('spotsA'),spotsGfpMinusA,0,0,1.6,'#1fe01f',.85,'gfp-spot');
spots($('spotsA'),spotsGfpPlusA,0,0,1.5,'#1fe01f',.75,'gfp-spot');
spots($('spotsE'),spotsSaMinusE,500,240,1.1,'#ff00ff',.25,'sa647-spot');
spots($('spotsE'),spotsSaPlusE,500,240,1.4,'#ff00ff',.95,'sa647-spot');
spots($('spotsE'),spotsGfpMinusE,500,240,1.5,'#1fe01f',.85,'gfp-spot');
spots($('spotsE'),spotsGfpPlusE,500,240,1.6,'#1fe01f',.95,'gfp-spot');

/* ---------- panel b ---------- */
const bx=linear(4,18,320.3,497.7),by=linear(0,50,181,32);
scatter($('chartB'),bPlus,bx,by,1.5,'#ff1fe6','scatter-point-plus-b');
scatter($('chartB'),bMinus,bx,by,1.45,'#000','scatter-point-minus-b');
yAxis($('chartB'),bTicksY,bTicksY,by,307.7,301,'b');
xAxis($('chartB'),bTicksX,bx,181,307.7,497.7,197,'b');

/* ---------- panel c ---------- */
const cy=linear(0,3.5,181,29.3);
violinHalf($('chartC'),cDensityPlus,cJitterPlus,cMedianPlus,cy,656.7,1,82.3,'#ffa8fb','#ff1fe6','#ff1fe6','plus-c');
violinHalf($('chartC'),cDensityMinus,cJitterMinus,cMedianMinus,cy,656.7,-1,82.3,'#e4e4e4','#a8a8a8','#222','minus-c',.79);
centerLine($('chartC'),656.7,cy(3.29),cy(.22),'violin-center-c');
yAxis($('chartC'),cTicksY,cTicksY,cy,574.3,569.3,'c');
const cAxis=make('line',{x1:574.3,x2:766.7,y1:181,y2:181,class:'ax'},$('chartC'));


const cTick=make('line',{x1:656.7,x2:656.7,y1:181,y2:184,class:'ax'},$('chartC'));



/* ---------- panel f ---------- */
const fx=linear(6,22,66.3,247.3),fy=linear(0,60,600,448.7);
scatter($('chartF'),fPlus,fx,fy,1.4,'#ff1fe6','scatter-point-plus-f');
scatter($('chartF'),fMinus,fx,fy,1.35,'#000','scatter-point-minus-f');
yAxis($('chartF'),fTicksY,fTicksY,fy,55,49.3,'f');
xAxis($('chartF'),fTicksX,fx,600,55,247.3,615,'f');

/* ---------- panel g ---------- */
const gy=linear(.5,4,600.3,447.3);
violinHalf($('chartG'),gDensityPlus,gJitterPlus,gMedianPlus,gy,410,1,82.7,'#ffa8fb','#ff1fe6','#ff1fe6','plus-g');
violinHalf($('chartG'),gDensityMinus,gJitterMinus,gMedianMinus,gy,410,-1,82.7,'#e4e4e4','#a8a8a8','#000','minus-g',1);
centerLine($('chartG'),410,gy(3.52),gy(.5),'violin-center-g');
yAxis($('chartG'),gTicksY,gTicksY,gy,327.3,320.7,'g');
const gAxis=make('line',{x1:327.3,x2:502.3,y1:600.3,y2:600.3,class:'ax'},$('chartG'));



/* ---------- panel h ---------- */
const hy=linear(.2,1.8,600.3,459.7);
const hCenters=[604,645,709,749.7];
const hUnit=41;
hValues.forEach((vals,g)=>{
  vals.forEach((v,i)=>{
    const p=make('circle',{cx:hCenters[g]+hJitter[g][i]*hUnit/2,cy:hy(v),r:1.5,fill:'#fff',stroke:'#333','stroke-width':.75},$('chartH'));
    
    
  });
  const m=make('line',{x1:hCenters[g]-11.7,x2:hCenters[g]+11.7,y1:hy(hMedians[g]),y2:hy(hMedians[g]),stroke:'#555','stroke-width':1.5},$('chartH'));
  
  
});
yAxis($('chartH'),hTicksY,hTickLabels,hy,576.7,570,'h');
const hAxis=make('line',{x1:576.7,x2:768,y1:600.3,y2:600.3,class:'ax'},$('chartH'));



/* ---------- panels i, j ---------- */
roc($('chartI'),iFpr,iTpr,55,226.7,858.3,687.7,'CaST (non-IRES)','AUC = 0.87',217.7,'i');
roc($('chartJ'),jFpr,jTpr,327.3,498.3,858.3,687.7,'CaST-IRES','AUC = 0.93',490,'j');
</script>
</body>
</html>
